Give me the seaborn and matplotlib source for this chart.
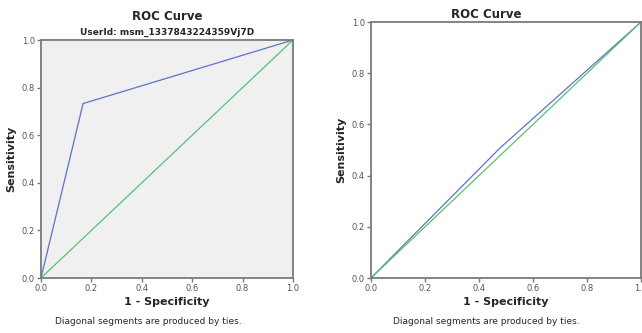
import matplotlib
matplotlib.use("Agg")
import matplotlib.pyplot as plt
import seaborn as sns
import pandas as pd

# Data
left_fpr = [0.0, 0.167, 1.0]
left_tpr = [0.0, 0.733, 1.0]
right_fpr = [0.0, 0.48, 1.0]
right_tpr = [0.0, 0.51, 1.0]
ref_x = [0.0, 1.0]
ref_y = [0.0, 1.0]
ticks = [0.0, 0.2, 0.4, 0.6, 0.8, 1.0]
tick_labels = ["0.0", "0.2", "0.4", "0.6", "0.8", "1.0"]
title = "ROC Curve"
subtitle = "UserId: msm_1337843224359Vj7D"
xlabel = "1 - Specificity"
ylabel = "Sensitivity"
footnote = "Diagonal segments are produced by ties."

sns.set_theme(style="white")
plt.rcParams['font.family'] = ['DejaVu Sans']

BLUE = "#5f72c6"
GREEN = "#55c273"
SPINE = "#7a7a7a"

fig = plt.figure(figsize=(6.42, 3.33), dpi=100)
ax1 = fig.add_axes([41/642, 1-278/333, (293-41)/642, (278-40)/333])
ax2 = fig.add_axes([371/642, 1-278/333, (641-371)/642, (278-22)/333])

def style(ax, bg):
    ax.set_facecolor(bg)
    ax.set_xlim(0, 1)
    ax.set_ylim(0, 1)
    ax.set_xticks(ticks)
    ax.set_xticklabels(tick_labels)
    ax.set_yticks(ticks)
    ax.set_yticklabels(tick_labels)
    ax.tick_params(axis="both", direction="out", length=3, width=1, color=SPINE,
                   labelsize=6, labelcolor="#555555", pad=1.5, left=True, bottom=True)
    for s in ax.spines.values():
        s.set_color(SPINE)
        s.set_linewidth(1.3)
    ax.set_xlabel(xlabel, fontsize=8, fontweight="bold", labelpad=3)
    ax.set_ylabel(ylabel, fontsize=8, fontweight="bold", labelpad=4)

df1 = pd.DataFrame({"x": left_fpr, "y": left_tpr})
df2 = pd.DataFrame({"x": right_fpr, "y": right_tpr})
dref = pd.DataFrame({"x": ref_x, "y": ref_y})

for ax, df in ((ax1, df1), (ax2, df2)):
    sns.lineplot(data=df, x="x", y="y", ax=ax, color=BLUE, lw=0.9, sort=False, estimator=None)
    sns.lineplot(data=dref, x="x", y="y", ax=ax, color=GREEN, lw=0.9, sort=False, estimator=None)

style(ax1, "#f0f0f0")
style(ax2, "white")

fig.text(167/642, 1-16/333, title, ha="center", va="center", fontsize=8.5, fontweight="bold")
fig.text(167/642, 1-32/333, subtitle, ha="center", va="center", fontsize=6.5, fontweight="bold")
fig.text(486/642, 1-14/333, title, ha="center", va="center", fontsize=8.5, fontweight="bold")
fig.text(148/642, 1-321/333, footnote, ha="center", va="center", fontsize=6.5)
fig.text(486/642, 1-321/333, footnote, ha="center", va="center", fontsize=6.5)

fig.savefig("out.png", dpi=100)
